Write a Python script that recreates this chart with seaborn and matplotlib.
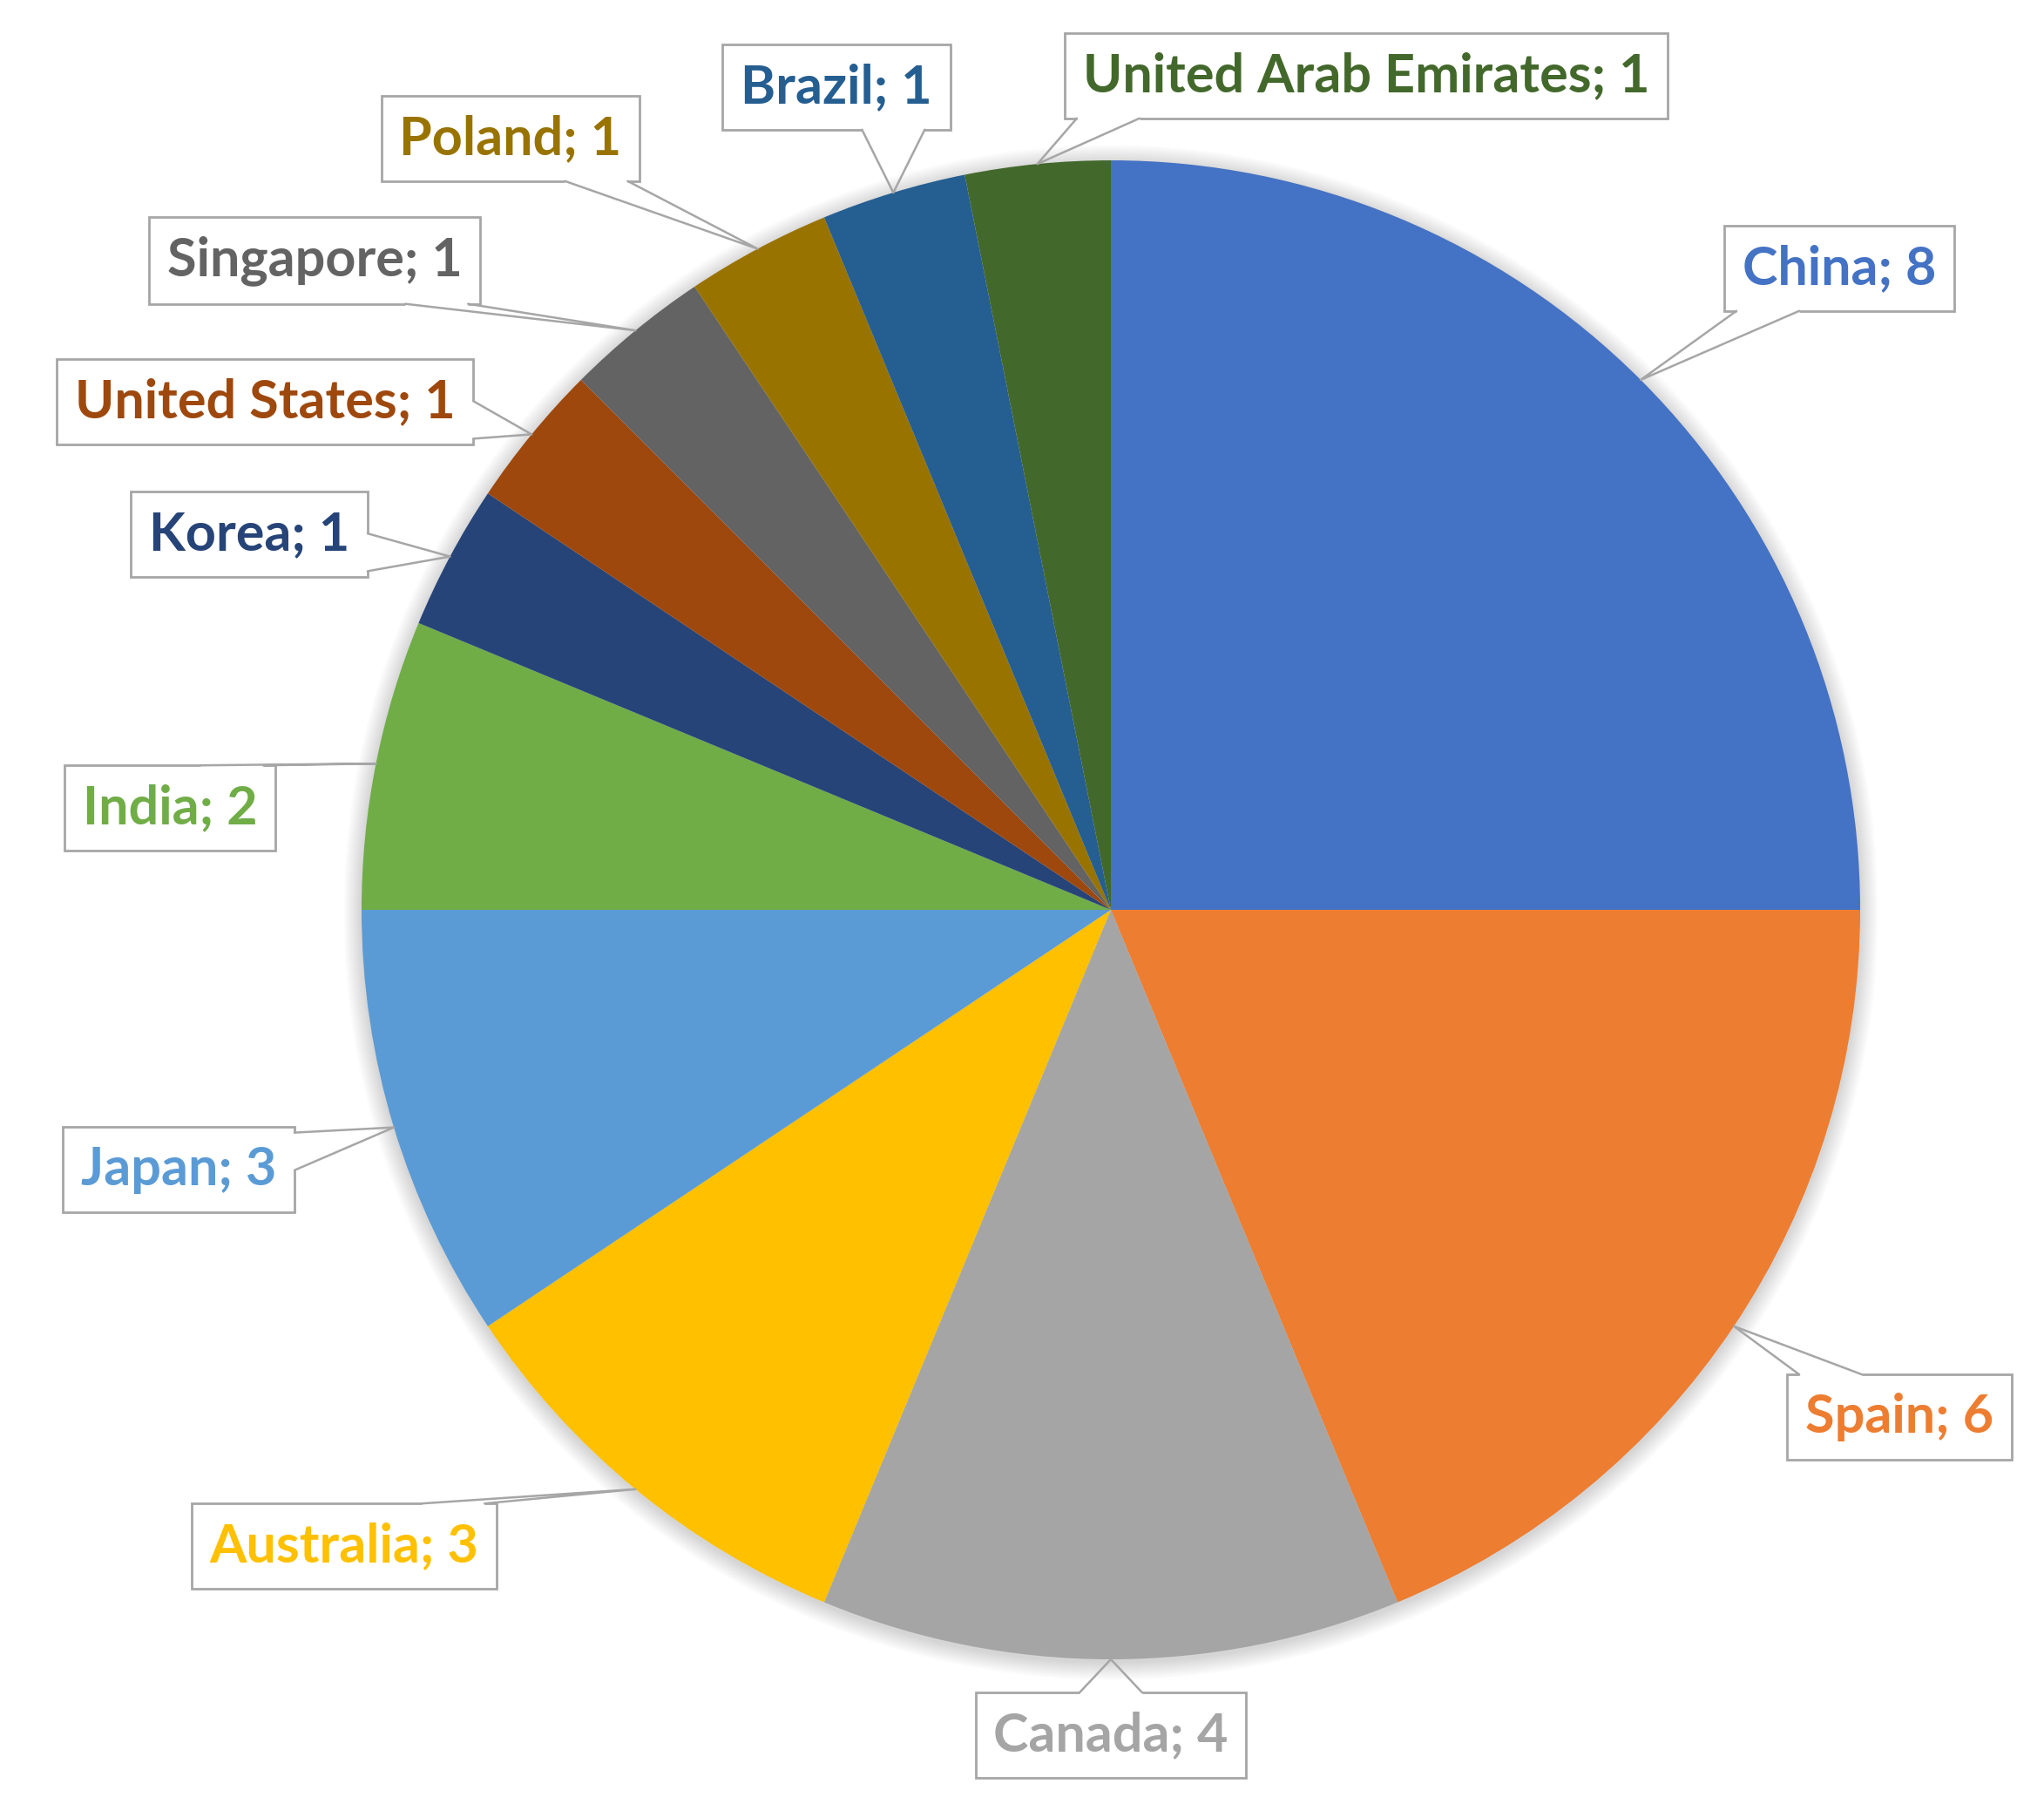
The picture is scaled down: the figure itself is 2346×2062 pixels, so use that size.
import numpy as np
import matplotlib
matplotlib.use("Agg")
import matplotlib.pyplot as plt
from matplotlib.patches import Circle
import seaborn as sns


### data
countries = ["China", "Spain", "Canada", "Australia", "Japan", "India", "Korea",
             "United States", "Singapore", "Poland", "Brazil", "United Arab Emirates"]
counts = [8, 6, 4, 3, 3, 2, 1, 1, 1, 1, 1, 1]
colors = ["#4472C4", "#ED7D31", "#A5A5A5", "#FFC000", "#5B9BD5", "#70AD47",
          "#264478", "#9E480E", "#636363", "#997300", "#255E91", "#43682B"]

### where the callout boxes sit (pixel centre, y measured from top)
label_pos = [(2111, 308), (2180, 1626), (1275, 1991), (395, 1774), (205, 1342),
             (195, 927), (286, 613), (304, 461), (361, 299), (586, 159),
             (960, 100), (1568, 87)]

sns.set_theme(style="white")
plt.rcParams['font.family'] = ['Lato', 'DejaVu Sans']

W, H = 2346, 2062
cx, cy, R = 1275, H - 1044, 860

fig = plt.figure(figsize=(W / 100, H / 100), dpi=100)
ax = fig.add_axes([0, 0, 1, 1])

# soft glow under the pie
for k in range(1, 22):
    ax.add_patch(Circle((cx, cy - 3), R + k, color='black', alpha=0.006, lw=0, zorder=0))

wedges, _ = ax.pie(counts, colors=colors, startangle=90, counterclock=False,
                   center=(cx, cy), radius=R, wedgeprops=dict(linewidth=0))
ax.set_xlim(0, W)
ax.set_ylim(0, H)
ax.set_aspect('equal')
ax.axis('off')

texts = []
for name, n, col, (lx, ly) in zip(countries, counts, colors, label_pos):
    t = ax.text(lx, H - ly, f"{name}; {n}", color=col, fontsize=44, fontweight='bold',
                ha='center', va='center', zorder=5,
                bbox=dict(boxstyle='square,pad=0.34', fc='white', ec='#A6A6A6', lw=2))
    texts.append(t)

fig.canvas.draw()
renderer = fig.canvas.get_renderer()
inv = ax.transData.inverted()

### callout pointers: thin wedge from box edge to the slice edge
for t, w in zip(texts, wedges):
    bb = t.get_bbox_patch().get_window_extent(renderer)
    (x0, y0), (x1, y1) = inv.transform([(bb.x0, bb.y0), (bb.x1, bb.y1)])
    th = np.deg2rad((w.theta1 + w.theta2) / 2)
    px, py = cx + R * np.cos(th), cy + R * np.sin(th)
    half = 36
    if py < y0:
        bx = np.clip(px, x0 + 50, x1 - 50)
        b1, b2 = (bx - half, y0), (bx + half, y0)
    elif py > y1:
        bx = np.clip(px, x0 + 50, x1 - 50)
        b1, b2 = (bx - half, y1), (bx + half, y1)
    elif px > x1:
        by = np.clip(py, y0 + 28, y1 - 28)
        b1, b2 = (x1, by - half * 0.6), (x1, by + half * 0.6)
    else:
        by = np.clip(py, y0 + 28, y1 - 28)
        b1, b2 = (x0, by - half * 0.6), (x0, by + half * 0.6)
    ax.plot([b1[0], b2[0]], [b1[1], b2[1]], color='white', lw=3.5, zorder=6,
            solid_capstyle='butt')
    ax.plot([b1[0], px, b2[0]], [b1[1], py, b2[1]], color='#A6A6A6', lw=1.8, zorder=6)

fig.savefig("out.png", dpi=100)
